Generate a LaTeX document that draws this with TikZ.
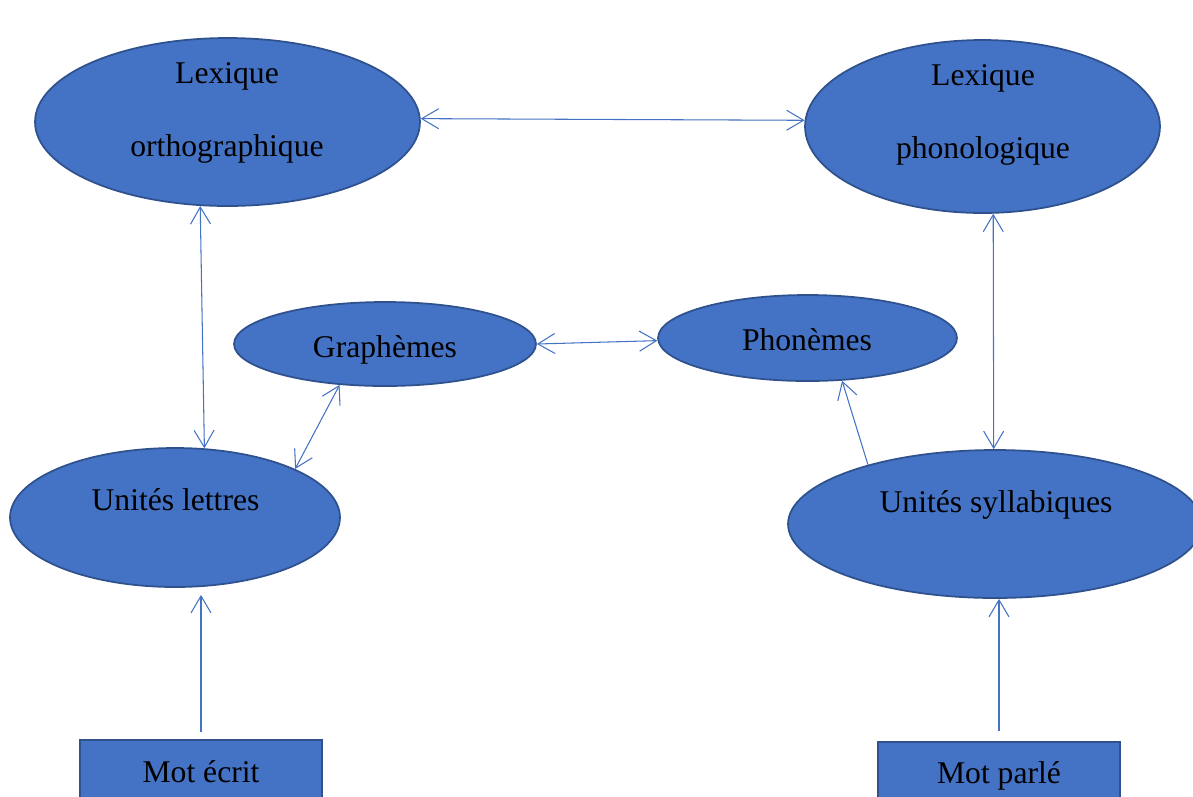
\documentclass[tikz,border=0pt]{standalone}
\usepackage{fontspec}
\setmainfont{Liberation Serif}
\usetikzlibrary{shapes.geometric, arrows.meta, calc}

\definecolor{boxblue}{HTML}{4472C4}
\definecolor{edgeblue}{HTML}{2F528F}

\tikzset{
  blob/.style={draw=edgeblue, line width=1pt, fill=boxblue, ellipse, inner sep=0pt},
  wordbox/.style={draw=edgeblue, line width=1pt, fill=boxblue, rectangle, inner sep=0pt,
    minimum width=4.84cm, minimum height=1.28cm},
  txt/.style={anchor=base, inner sep=0pt, font=\fontsize{18}{21}\selectfont},
  link/.style={draw=boxblue, line width=0.6pt},
  >={Straight Barb[length=3.4mm, width=4mm]}
}

\begin{document}
\begin{tikzpicture}[x=0.02cm, y=-0.02cm]
  \useasboundingbox (0, 0) rectangle (1193, 796);

  \node [blob, minimum width=7.7cm, minimum height=3.36cm] (Ortho_node) at (227.5, 122) {};
  \node [blob, minimum width=7.1cm, minimum height=3.46cm] (Phono_node) at (982.5, 126.5) {};
  \node [blob, minimum width=6.04cm, minimum height=1.68cm] (Graph_node) at (385, 344) {};
  \node [blob, minimum width=5.98cm, minimum height=1.72cm] (Phon_node) at (807.5, 338) {};
  \node [blob, minimum width=6.6cm, minimum height=2.78cm] (Lettres_node) at (175, 517.5) {};
  \node [blob, minimum width=8.28cm, minimum height=2.96cm] (Syll_node) at (995, 524) {};

  \node [wordbox] (Ecrit_node) at (201, 772) {};
  \node [wordbox] (Parle_node) at (999, 774) {};

  % texts
  \node [txt] (Ortho_top) at (227, 83) {Lexique};
  \node [txt] (Ortho_bot) at (227, 156) {orthographique};
  \node [txt] (Phono_top) at (983, 85) {Lexique};
  \node [txt] (Phono_bot) at (983, 158) {phonologique};
  \node [txt] (Graph_text) at (385, 357) {Graphèmes};
  \node [txt] (Phon_text) at (807, 350) {Phonèmes};
  \node [txt] (Lettres_text) at (175.5, 510) {Unités lettres};
  \node [txt] (Syll_text) at (996, 512) {Unités syllabiques};
  \node [txt] (Ecrit_text) at (201, 782) {Mot écrit};
  \node [txt] (Parle_text) at (999, 783) {Mot parlé};

  % connectors
  \draw [link, <->] (Ortho_node.1) -- (Phono_node.178);
  \draw [link, <->] (Ortho_node.252) -- (Lettres_node.67);
  \draw [link, <->] (Graph_node.222) -- (Lettres_node.22);
  \draw [link, <->] (Graph_node.east) -- (Phon_node.181.5);
  \draw [link, <->] (Phono_node.277) -- (Syll_node.91);
  \draw [link, ->] (Syll_node.155.5) -- (Phon_node.309);

  \draw [link, ->] ($(Ecrit_node.north)+(0pt, 4pt)$) -- ($(Ecrit_node.north |- Lettres_node.south)+(0pt, -4pt)$);
  \draw [link, ->] ($(Parle_node.north)+(0pt, 5.7pt)$) -- (Parle_node.north |- Syll_node.south);
\end{tikzpicture}
\end{document}
